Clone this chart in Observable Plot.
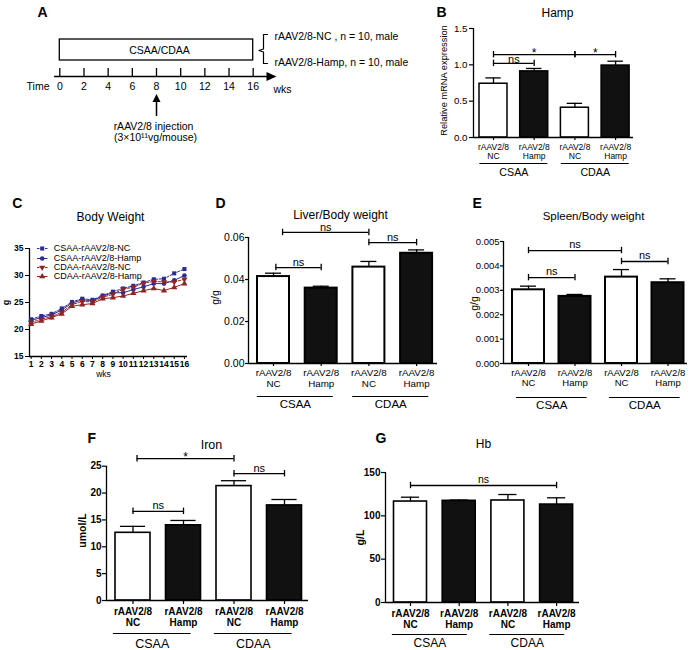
<!DOCTYPE html>
<html>
<head>
<meta charset="utf-8">
<script src="https://cdn.jsdelivr.net/npm/d3@7"></script>
<script src="https://cdn.jsdelivr.net/npm/@observablehq/plot@0.6"></script>
<style>
  html, body { margin: 0; padding: 0; background: #fff; }
  #fig { position: relative; width: 693px; height: 650px; overflow: hidden; background: #fff; font-family: "Liberation Sans", Arial, sans-serif; }
</style>
</head>
<body>
<div id="fig"></div>
<script>
// ================= DATA =================
// Panel A (timeline schematic)
const timelineWeeks = [0, 2, 4, 6, 8, 10, 12, 14, 16];
const dietPeriod = [0, 16];
const injectionWeek = 8;
const dietLabel = "CSAA/CDAA";
const cohortLabels = ["rAAV2/8-NC , n = 10, male", "rAAV2/8-Hamp, n = 10, male"];
const injectionLabels = ["rAAV2/8 injection", "(3×10¹¹vg/mouse)"];

// Bar categories (panels B, D, E, F, G)
const barDiet = ["CSAA", "CSAA", "CDAA", "CDAA"];
const barVector = ["NC", "Hamp", "NC", "Hamp"];
const barLabels = ["rAAV2/8\nNC", "rAAV2/8\nHamp", "rAAV2/8\nNC", "rAAV2/8\nHamp"];
const dietGroups = ["CSAA", "CDAA"];

// B: Hamp relative mRNA expression
const hampMean = [0.74, 0.91, 0.41, 0.99];
const hampSem = [0.08, 0.04, 0.06, 0.06];
const hampSig = [
  {from: 0, to: 2, y: 1.14, label: "*"},
  {from: 2, to: 3, y: 1.14, label: "*"},
  {from: 0, to: 1, y: 1.02, label: "ns"}
];

// C: Body weight (g) by week
const bwWeeks = [1, 2, 3, 4, 5, 6, 7, 8, 9, 10, 11, 12, 13, 14, 15, 16];
const bwSeries = ["CSAA-rAAV2/8-NC", "CSAA-rAAV2/8-Hamp", "CDAA-rAAV2/8-NC", "CDAA-rAAV2/8-Hamp"];
const bwCsaaNc   = [21.9, 22.5, 22.9, 23.9, 25.1, 25.7, 25.5, 26.3, 27.0, 27.6, 28.1, 28.7, 29.3, 29.4, 30.4, 31.2];
const bwCsaaHamp = [21.7, 22.2, 22.7, 23.6, 24.9, 25.5, 25.3, 26.2, 26.8, 26.8, 27.4, 27.9, 28.5, 28.5, 29.1, 30.0];
const bwCdaaNc   = [21.3, 21.9, 22.4, 23.2, 24.6, 25.2, 25.1, 26.0, 26.5, 27.5, 27.8, 28.6, 28.9, 28.8, 28.8, 29.3];
const bwCdaaHamp = [21.0, 21.6, 22.2, 22.9, 24.3, 24.6, 24.8, 25.7, 25.9, 26.2, 26.7, 27.2, 27.6, 27.2, 27.8, 28.5];
const bwTicksY = [15, 20, 25, 30, 35];

// D: Liver/Body weight
const liverMean = [0.0414, 0.0359, 0.0459, 0.0525];
const liverSem = [0.0016, 0.0009, 0.0027, 0.0016];
const liverSig = [
  {from: 0.19, to: 2, y: 0.0624, label: "ns"},
  {from: 2, to: 3, y: 0.0576, label: "ns"},
  {from: 0.05, to: 1, y: 0.0457, label: "ns"}
];

// E: Spleen/Body weight
const spleenMean = [0.00302, 0.00275, 0.00354, 0.00331];
const spleenSem = [0.00015, 0.00008, 0.00031, 0.00016];
const spleenSig = [
  {from: 0, to: 2, y: 0.00463, label: "ns"},
  {from: 2, to: 3, y: 0.00418, label: "ns"},
  {from: 0, to: 1, y: 0.00352, label: "ns"}
];

// F: Iron (umol/L)
const ironMean = [12.6, 14.0, 21.3, 17.7];
const ironSem = [1.2, 0.9, 1.0, 1.1];
const ironSig = [
  {from: 0.08, to: 2, y: 26.4, label: "*"},
  {from: 2, to: 3, y: 23.6, label: "ns"},
  {from: 0, to: 1, y: 16.6, label: "ns"}
];

// G: Hb (g/L)
const hbMean = [116.5, 117.3, 117.7, 113.0];
const hbSem = [5.0, 0.9, 6.9, 7.8];
const hbSig = [
  {from: 0, to: 3, y: 135, label: "ns"}
];

// ================= RENDERING =================
const FONT = '"Liberation Sans", Arial, Helvetica, sans-serif';
const fig = document.getElementById("fig");

function place(svg, box) {
  svg.style.position = "absolute";
  svg.style.left = box.left + "px";
  svg.style.top = box.top + "px";
  svg.style.maxWidth = "none";
  fig.appendChild(svg);
}

// text at an absolute page position, anchored on the frame's top-left corner
function absText(L, str, ax, ay, opt = {}) {
  return Plot.text([str], {
    text: d => d, frameAnchor: "top-left",
    dx: ax - L.x0, dy: ay - L.yTop,
    textAnchor: "middle", lineAnchor: "middle", fill: "black", ...opt
  });
}

function baseStyle() {
  return {fontFamily: FONT, background: "transparent", overflow: "visible", color: "black"};
}

const sqrt3 = Math.sqrt(3);
const triangleDown = {
  draw(ctx, size) {
    const y = Math.sqrt(size / (sqrt3 * 3));
    ctx.moveTo(0, y * 2);
    ctx.lineTo(-sqrt3 * y, -y);
    ctx.lineTo(sqrt3 * y, -y);
    ctx.closePath();
  }
};
const headRight = {draw(ctx) { ctx.moveTo(5, 0); ctx.lineTo(-5, -4.5); ctx.lineTo(-5, 4.5); ctx.closePath(); }};
const headUp = {draw(ctx) { ctx.moveTo(0, -4); ctx.lineTo(-4, 4); ctx.lineTo(4, 4); ctx.closePath(); }};

// ---------- Panel A ----------
{
  const L = {box: {left: 0, top: 0, w: 430, h: 190}, x0: 59.3, x1: 252.7, yTop: 36, yBot: 76};
  const Y = py => L.yBot - py;                       // height above the time axis
  const wk = px => (px - L.x0) / (L.x1 - L.x0) * (dietPeriod[1] - dietPeriod[0]) + dietPeriod[0];
  const bracket = [[267, 34], [263, 34], [263, 48.5], [258.5, 50], [263, 51.5], [263, 63], [267, 63]];
  const fs = 10.5;
  const svg = Plot.plot({
    width: L.box.w, height: L.box.h,
    marginLeft: L.x0 - L.box.left, marginRight: L.box.left + L.box.w - L.x1,
    marginTop: L.yTop - L.box.top, marginBottom: L.box.top + L.box.h - L.yBot,
    x: {domain: dietPeriod, axis: null},
    y: {domain: [0, L.yBot - L.yTop], axis: null},
    style: baseStyle(),
    marks: [
      Plot.rect([dietPeriod], {x1: d => d[0], x2: d => d[1], y1: Y(60), y2: Y(39), fill: "white", stroke: "black", strokeWidth: 1.3}),
      Plot.text([dietLabel], {x: (dietPeriod[0] + dietPeriod[1]) / 2, y: Y(50), text: d => d, dx: 3, fontSize: fs, fill: "black"}),
      Plot.ruleY([0], {x1: wk(54), x2: wk(268), strokeWidth: 1.5}),
      Plot.dot([0], {x: wk(271), y: 0, symbol: headRight, fill: "black", stroke: null}),
      Plot.ruleX(timelineWeeks, {x: d => d, y1: 0, y2: 8, strokeWidth: 1.3}),
      Plot.text(timelineWeeks, {x: d => d, y: 0, dy: 10, text: d => String(d), fontSize: fs, fill: "black"}),
      absText(L, "Time", 37.5, 86, {fontSize: fs}),
      absText(L, "wks", 282, 89, {fontSize: fs}),
      Plot.ruleX([injectionWeek], {x: d => d, y1: Y(116), y2: Y(99), strokeWidth: 1.5}),
      Plot.dot([injectionWeek], {x: d => d, y: Y(97.5), symbol: headUp, fill: "black", stroke: null}),
      absText(L, injectionLabels[0], 153, 126, {fontSize: fs}),
      absText(L, injectionLabels[1], 155, 137, {fontSize: fs}),
      Plot.line(bracket, {x: p => wk(p[0]), y: p => Y(p[1]), stroke: "black", strokeWidth: 1.2}),
      absText(L, cohortLabels[0], 274, 36, {fontSize: fs, textAnchor: "start"}),
      absText(L, cohortLabels[1], 274, 62, {fontSize: fs, textAnchor: "start"}),
      absText(L, "A", 37, 12, {fontSize: 14, fontWeight: "bold", textAnchor: "start"})
    ]
  });
  place(svg, L.box);
}

// ---------- Panel C ----------
{
  const L = {box: {left: 0, top: 190, w: 190, h: 200}, x0: 29, x1: 187, yTop: 248, yBot: 356};
  const xd = [0.84, 16.3], yd = [bwTicksY[0], bwTicksY[bwTicksY.length - 1]];
  const wx = px => xd[0] + (px - L.x0) / (L.x1 - L.x0) * (xd[1] - xd[0]);
  const vy = py => yd[1] - (py - L.yTop) / (L.yBot - L.yTop) * (yd[1] - yd[0]);
  const values = [bwCsaaNc, bwCsaaHamp, bwCdaaNc, bwCdaaHamp];
  const table = bwSeries.flatMap((s, k) => values[k].map((v, j) => ({series: s, week: bwWeeks[j], g: v})));
  const styles = [
    {dash: "2.5,1.5", symbol: "square"},
    {dash: null, symbol: "circle"},
    {dash: "2.5,1.5", symbol: triangleDown},
    {dash: null, symbol: "triangle"}
  ];
  const legY = [248, 258, 267, 276];
  const seriesMarks = bwSeries.flatMap((s, k) => {
    const rows = table.filter(d => d.series === s);
    return [
      Plot.line(rows, {x: "week", y: "g", stroke: "series", strokeWidth: 1, strokeDasharray: styles[k].dash}),
      Plot.dot(rows, {x: "week", y: "g", fill: "series", symbol: styles[k].symbol, r: 2.3, stroke: null})
    ];
  });
  const legendMarks = bwSeries.flatMap((s, k) => [
    Plot.link([s], {x1: wx(36.5), x2: wx(47), y1: vy(legY[k]), y2: vy(legY[k]), stroke: d => d, strokeWidth: 1, strokeDasharray: styles[k].dash}),
    Plot.dot([s], {x: wx(41.7), y: vy(legY[k]), fill: d => d, symbol: styles[k].symbol, r: 2.3, stroke: null}),
    absText(L, s, 53.3, legY[k], {fontSize: 9, textAnchor: "start"})
  ]);
  const svg = Plot.plot({
    width: L.box.w, height: L.box.h,
    marginLeft: L.x0 - L.box.left, marginRight: L.box.left + L.box.w - L.x1,
    marginTop: L.yTop - L.box.top, marginBottom: L.box.top + L.box.h - L.yBot,
    x: {domain: xd}, y: {domain: yd},
    color: {domain: bwSeries, range: ["#2c2c94", "#2c2c94", "#8e2424", "#8e2424"]},
    style: baseStyle(),
    marks: [
      Plot.ruleX([xd[0]], {strokeWidth: 1.3}),
      Plot.ruleY([yd[0]], {strokeWidth: 1.3}),
      Plot.axisY({ticks: bwTicksY, tickSize: 4, tickPadding: 2, fontSize: 8.5, fontWeight: "bold", label: null}),
      Plot.axisX({ticks: bwWeeks, tickSize: 3, tickPadding: 1, fontSize: 8.5, fontWeight: "bold", label: null}),
      ...seriesMarks,
      ...legendMarks,
      absText(L, "C", 11.7, 203, {fontSize: 14, fontWeight: "bold", textAnchor: "start"}),
      absText(L, "Body Weight", 110, 217, {fontSize: 12}),
      absText(L, "g", 6, 302, {fontSize: 9, fontWeight: "bold", rotate: -90}),
      absText(L, "wks", 103, 374, {fontSize: 8.5})
    ]
  });
  place(svg, L.box);
}

// ---------- Bar panels ----------
function barPanel(P) {
  const xd0 = (P.x0 - P.c0) / P.step;
  const xd1 = 3 + (P.x1 - (P.c0 + 3 * P.step)) / P.step;
  const hw = P.barW / 2 / P.step;
  const cap = hw * P.capFrac;
  const tick = 3.2 * P.yMax / (P.yBot - P.yTop);
  const rows = P.mean.map((m, i) => ({i, mean: m, top: m + P.sem[i], vector: barVector[i]}));
  const groups = dietGroups.map(g => {
    const idx = barDiet.map((d, i) => d === g ? i : -1).filter(i => i >= 0);
    return {name: g, from: d3.min(idx), to: d3.max(idx)};
  });
  const ends = P.sig.flatMap(s => [{x: s.from, y: s.y}, {x: s.to, y: s.y}]);
  const weight = P.bold ? "bold" : "normal";
  const svg = Plot.plot({
    width: P.box.w, height: P.box.h,
    marginLeft: P.x0 - P.box.left, marginRight: P.box.left + P.box.w - P.x1,
    marginTop: P.yTop - P.box.top, marginBottom: P.box.top + P.box.h - P.yBot,
    x: {domain: [xd0, xd1]},
    y: {domain: [0, P.yMax]},
    color: {domain: ["NC", "Hamp"], range: ["white", "#111111"]},
    style: baseStyle(),
    marks: [
      Plot.rect(rows, {x1: d => d.i - hw, x2: d => d.i + hw, y1: 0, y2: "mean", fill: "vector", stroke: "black", strokeWidth: P.barStroke}),
      Plot.ruleX(rows, {x: "i", y1: "mean", y2: "top", strokeWidth: 1.3}),
      Plot.ruleY(rows, {y: "top", x1: d => d.i - cap, x2: d => d.i + cap, strokeWidth: 1.3}),
      Plot.ruleX([xd0], {strokeWidth: 1.3}),
      Plot.ruleY([0], {strokeWidth: 1.3}),
      Plot.axisY({ticks: P.yTicks, tickFormat: d3.format(P.fmt), tickSize: P.yTickSize, tickPadding: P.yPad,
                  fontSize: P.tickFont, fontWeight: weight, label: null, strokeWidth: 1.2}),
      Plot.axisX({ticks: barLabels.map((_, i) => i), tickFormat: i => barLabels[i], tickSize: P.xTickSize, tickPadding: P.xPad,
                  fontSize: P.xFont, fontWeight: weight, lineHeight: P.xLine, label: null, strokeWidth: 1.2}),
      Plot.ruleY(groups, {y: 0, x1: d => d.from - P.ga, x2: d => d.to + P.ga, dy: P.groupY - P.yBot, dx: P.gShift, strokeWidth: 1.1}),
      Plot.text(groups, {x: d => (d.from + d.to) / 2, y: 0, text: "name", dy: P.groupLabelY - P.yBot, dx: P.gShift,
                         fontSize: P.groupFont, fill: "black"}),
      Plot.ruleY(P.sig, {y: "y", x1: "from", x2: "to", strokeWidth: 1.3}),
      Plot.ruleX(ends, {x: "x", y1: d => d.y - tick, y2: d => d.y + tick, strokeWidth: 1.3}),
      Plot.text(P.sig.filter(s => s.label === "ns"), {x: d => (d.from + d.to) / 2, y: "y", text: "label", dy: P.nsDy, fontSize: P.sigFont, fill: "black"}),
      Plot.text(P.sig.filter(s => s.label !== "ns"), {x: d => (d.from + d.to) / 2, y: "y", text: "label", dy: P.starDy, fontSize: P.sigFont + 1, fill: "black"}),
      absText(P, P.letter[0], P.letter[1], P.letter[2], {fontSize: 14, fontWeight: "bold", textAnchor: "start"}),
      absText(P, P.title[0], P.title[1], P.title[2], {fontSize: P.title[3]}),
      absText(P, P.ylab[0], P.ylab[1], P.ylab[2], {fontSize: P.ylab[3], fontWeight: weight, rotate: -90})
    ]
  });
  place(svg, P.box);
}

barPanel({
  box: {left: 430, top: 0, w: 263, h: 190}, x0: 473, x1: 633, yTop: 28, yBot: 137,
  yMax: 1.5, yTicks: [0, 0.5, 1.0, 1.5], fmt: ".1f",
  c0: 493, step: 40.7, barW: 28, capFrac: 0.55, barStroke: 1.5,
  letter: ["B", 436, 12], title: ["Hamp", 557, 13, 12], ylab: ["Relative mRNA expression", 444, 80, 9.3],
  tickFont: 9.8, xFont: 8.5, xLine: 1.06, xTickSize: 3, xPad: 3, yTickSize: 4, yPad: 2, bold: false,
  groupY: 163, groupLabelY: 172, groupFont: 10.7, ga: 0.335, gShift: 0,
  nsDy: -4, starDy: -2, sigFont: 11,
  mean: hampMean, sem: hampSem, sig: hampSig
});

barPanel({
  box: {left: 190, top: 190, w: 250, h: 220}, x0: 248, x1: 437, yTop: 237, yBot: 363,
  yMax: 0.06, yTicks: [0, 0.02, 0.04, 0.06], fmt: ".2f",
  c0: 273, step: 47.7, barW: 32, capFrac: 0.5, barStroke: 2,
  letter: ["D", 215, 203], title: ["Liver/Body weight", 340, 215, 12], ylab: ["g/g", 215, 297, 10.5],
  tickFont: 10.5, xFont: 9.8, xLine: 1.1, xTickSize: 3, xPad: 2, yTickSize: 3, yPad: 1, bold: false,
  groupY: 396, groupLabelY: 404, groupFont: 11.5, ga: 0.297, gShift: -2,
  nsDy: -5, starDy: -2, sigFont: 11,
  mean: liverMean, sem: liverSem, sig: liverSig
});

barPanel({
  box: {left: 440, top: 190, w: 253, h: 220}, x0: 503, x1: 687, yTop: 241, yBot: 363,
  yMax: 0.005, yTicks: [0, 0.001, 0.002, 0.003, 0.004, 0.005], fmt: ".3f",
  c0: 528, step: 46.5, barW: 32, capFrac: 0.5, barStroke: 2,
  letter: ["E", 472, 203], title: ["Spleen/Body weight", 593, 216, 11.5], ylab: ["g/g", 474, 303, 10.5],
  tickFont: 9.5, xFont: 9.5, xLine: 1.1, xTickSize: 3, xPad: 2, yTickSize: 3, yPad: 1, bold: false,
  groupY: 397, groupLabelY: 405, groupFont: 11.5, ga: 0.26, gShift: 0,
  nsDy: -6, starDy: -2, sigFont: 11,
  mean: spleenMean, sem: spleenSem, sig: spleenSig
});

barPanel({
  box: {left: 0, top: 410, w: 330, h: 240}, x0: 106, x1: 308, yTop: 465.7, yBot: 600,
  yMax: 25, yTicks: [0, 5, 10, 15, 20, 25], fmt: "d",
  c0: 132.5, step: 50.5, barW: 35, capFrac: 0.72, barStroke: 1.6,
  letter: ["F", 87, 438], title: ["Iron", 211, 444, 12.5], ylab: ["umol/L", 82, 530, 10.5],
  tickFont: 10, xFont: 10, xLine: 1.1, xTickSize: 4, xPad: 3, yTickSize: 4, yPad: 1, bold: true,
  groupY: 633, groupLabelY: 643, groupFont: 12.5, ga: 0.27, gShift: -6,
  nsDy: -5.5, starDy: -1.5, sigFont: 11,
  mean: ironMean, sem: ironSem, sig: ironSig
});

barPanel({
  box: {left: 330, top: 410, w: 363, h: 240}, x0: 385, x1: 579, yTop: 472, yBot: 602,
  yMax: 150, yTicks: [0, 50, 100, 150], fmt: "d",
  c0: 410, step: 48.7, barW: 33, capFrac: 0.55, barStroke: 1.6,
  letter: ["G", 375, 438], title: ["Hb", 483, 444, 12], ylab: ["g/L", 360, 537, 10.5],
  tickFont: 10, xFont: 10, xLine: 1.1, xTickSize: 4, xPad: 3, yTickSize: 4, yPad: 1, bold: true,
  groupY: 634, groupLabelY: 643, groupFont: 12, ga: 0.27, gShift: -5,
  nsDy: -6, starDy: -2, sigFont: 10.5,
  mean: hbMean, sem: hbSem, sig: hbSig
});
</script>
</body>
</html>
